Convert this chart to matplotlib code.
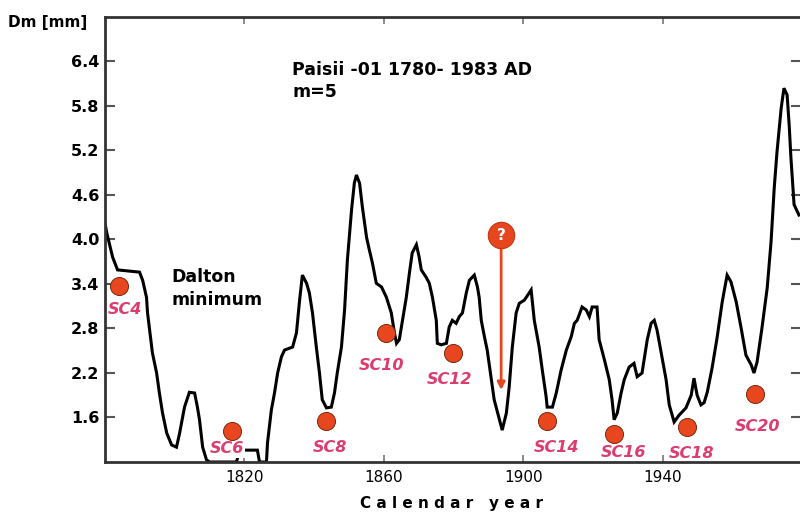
import matplotlib

matplotlib.use("Agg")  # no display
import matplotlib.pyplot as plt

# Paisii-01 ring series, m=5 smoothing (year, Dm in mm)
years = [
    1780.0, 1780.5, 1782.2, 1783.6, 1789.9, 1790.8, 1791.9, 1792.2, 1792.8, 1793.6,
    1794.8, 1795.6, 1796.5, 1797.7, 1799.1, 1800.5, 1801.4, 1802.8, 1804.2, 1805.7,
    1806.5, 1807.1, 1808.0, 1809.1, 1810.0, 1817.7, 1818.6, 1820.6, 1823.7, 1824.3,
    1826.3, 1826.6, 1827.7, 1828.6, 1829.5, 1830.6, 1831.5, 1833.8, 1834.9, 1835.8,
    1836.6, 1837.8, 1838.6, 1839.5, 1840.6, 1841.5, 1842.3, 1843.5, 1844.9, 1845.8,
    1846.6, 1847.8, 1848.7, 1849.5, 1850.7, 1851.5, 1852.1, 1853.0, 1853.8, 1855.0,
    1855.8, 1856.7, 1857.8, 1859.3, 1860.1, 1860.7, 1862.1, 1863.0, 1863.6, 1864.4,
    1865.3, 1866.4, 1867.3, 1868.1, 1869.3, 1870.1, 1870.7, 1872.1, 1873.0, 1873.9,
    1875.0, 1875.3, 1876.4, 1877.9, 1878.7, 1879.6, 1880.7, 1881.6, 1882.5, 1883.6,
    1884.5, 1885.9, 1886.8, 1887.3, 1887.9, 1888.8, 1889.6, 1890.8, 1891.6, 1893.1,
    1893.9, 1895.1, 1895.9, 1896.8, 1897.9, 1898.8, 1900.2, 1900.8, 1902.2, 1903.1,
    1904.5, 1905.4, 1906.5, 1906.8, 1908.3, 1909.4, 1910.8, 1912.3, 1913.7, 1914.6,
    1915.4, 1916.8, 1918.0, 1918.9, 1919.7, 1921.1, 1921.7, 1923.2, 1924.6, 1925.4,
    1926.0, 1926.9, 1928.0, 1928.9, 1930.3, 1931.7, 1932.6, 1934.0, 1935.5, 1936.6,
    1937.5, 1938.3, 1939.5, 1940.9, 1941.8, 1943.2, 1944.6, 1946.6, 1948.1, 1948.9,
    1949.8, 1950.9, 1951.8, 1952.7, 1954.1, 1955.5, 1957.0, 1958.4, 1959.5, 1961.0,
    1962.4, 1963.8, 1965.3, 1966.1, 1967.0, 1968.4, 1969.9, 1971.0, 1971.9, 1972.7,
    1973.9, 1974.7, 1975.6, 1976.2, 1976.7, 1977.6, 1979.0,
]
dm = [
    4.22, 4.09, 3.76, 3.59, 3.56, 3.45, 3.22, 3.01, 2.78, 2.47,
    2.20, 1.93, 1.66, 1.39, 1.23, 1.20, 1.39, 1.74, 1.94, 1.93,
    1.74, 1.57, 1.20, 1.03, 1.00, 1.00, 1.16, 1.16, 1.16, 1.00,
    1.00, 1.26, 1.70, 1.93, 2.20, 2.42, 2.51, 2.55, 2.74, 3.18,
    3.52, 3.41, 3.28, 3.01, 2.55, 2.20, 1.84, 1.73, 1.74, 1.93,
    2.20, 2.55, 3.05, 3.72, 4.40, 4.76, 4.87, 4.76, 4.44, 4.03,
    3.86, 3.68, 3.41, 3.36, 3.28, 3.22, 3.01, 2.74, 2.60, 2.65,
    2.91, 3.22, 3.55, 3.82, 3.93, 3.76, 3.59, 3.49, 3.41, 3.22,
    2.91, 2.60, 2.58, 2.60, 2.82, 2.91, 2.87, 2.96, 3.01, 3.28,
    3.45, 3.52, 3.36, 3.22, 2.91, 2.69, 2.51, 2.11, 1.84, 1.57,
    1.43, 1.66, 2.01, 2.55, 3.01, 3.14, 3.18, 3.22, 3.32, 2.91,
    2.55, 2.24, 1.88, 1.74, 1.74, 1.93, 2.24, 2.51, 2.69, 2.87,
    2.91, 3.09, 3.05, 2.96, 3.09, 3.09, 2.65, 2.38, 2.11, 1.84,
    1.57, 1.66, 1.93, 2.11, 2.28, 2.33, 2.15, 2.20, 2.65, 2.87,
    2.91, 2.78, 2.47, 2.11, 1.77, 1.54, 1.63, 1.73, 1.90, 2.13,
    1.90, 1.77, 1.80, 1.94, 2.27, 2.67, 3.16, 3.52, 3.43, 3.16,
    2.81, 2.44, 2.31, 2.20, 2.35, 2.81, 3.35, 3.97, 4.69, 5.18,
    5.77, 6.04, 5.95, 5.54, 5.10, 4.47, 4.33,
]

# solar cycle minima markers
sc_names = ["SC4", "SC6", "SC8", "SC10", "SC12", "SC14", "SC16", "SC18", "SC20"]
sc_years = [1783.9, 1816.3, 1843.5, 1860.7, 1879.9, 1906.8, 1926.0, 1946.9, 1966.4]
sc_dm = [3.37, 1.42, 1.55, 2.74, 2.47, 1.55, 1.38, 1.47, 1.92]

# the doubtful minimum near 1894
q_year = 1893.6
q_dm = 4.06
q_tip_dm = 1.97

y_ticks = [1.6, 2.2, 2.8, 3.4, 4.0, 4.6, 5.2, 5.8, 6.4]
x_ticks = [1820, 1860, 1900, 1940]

# label offsets in pixels, relative to each marker
label_offsets = [(6, -23), (-5, -18), (3, -26), (-5, -33), (-4, -27),
                 (9, -26), (9, -19), (4, -26), (2, -33)]

DOT = "#E8461E"
LABEL = "#DC3C6E"
SPINE = "#333333"

fig = plt.figure(figsize=(8.0, 5.14), dpi=100)
ax = fig.add_axes([0.13125, 0.10117, 0.8705, 0.86576])

ax.plot(years, dm, color="black", lw=2.2, zorder=2, solid_joinstyle="miter")

ax.plot(sc_years, sc_dm, "o", ms=13, mfc=DOT, mec="#7a2a10", mew=0.7, zorder=4)
# labels sit above the curve but under the spines
for name, x, y, off in zip(sc_names, sc_years, sc_dm, label_offsets):
    ax.annotate(name, (x, y), xytext=off, textcoords="offset pixels",
                ha="center", va="center", fontsize=11.5, fontweight="bold",
                fontstyle="italic", color=LABEL, zorder=2.4,
                bbox=dict(boxstyle="square,pad=0.08", fc="white", ec="none"))

# question mark with arrow
ax.annotate("", xy=(q_year, q_tip_dm), xytext=(q_year, q_dm - 0.17),
            arrowprops=dict(arrowstyle="-|>", color=DOT, lw=2,
                            mutation_scale=11, shrinkA=0, shrinkB=0), zorder=4)
ax.plot([q_year], [q_dm], "o", ms=19, mfc=DOT, mec="#c0380f", mew=0.8, zorder=4)
ax.text(q_year, q_dm, "?", ha="center", va="center", color="white",
        fontsize=11, fontweight="bold", zorder=5)

ax.set_xlim(1780, 1979.7)
ax.set_ylim(1.0, 7.0)

ax.set_yticks(y_ticks)
ax.set_yticklabels([f"{v:.1f}" for v in y_ticks], fontsize=11.5, fontweight="bold")
ax.set_xticks(x_ticks)
ax.set_xticklabels([str(v) for v in x_ticks], fontsize=11)

ax.tick_params(axis="y", which="both", direction="in", length=7, width=1.5,
               color="#555555", left=True, right=True, pad=4)
ax.tick_params(axis="x", which="both", direction="in", length=5, width=1.2,
               color="#777777", top=True, bottom=True, pad=6)

for side in ["left", "bottom", "top", "right"]:
    ax.spines[side].set_color(SPINE)
    ax.spines[side].set_linewidth(2)

ax.text(0.2687, 0.856, "Paisii -01 1780- 1983 AD\nm=5", transform=ax.transAxes,
        ha="left", va="center", fontsize=12.5, fontweight="bold", linespacing=1.3)
ax.text(0.0950, 0.390, "Dalton\nminimum", transform=ax.transAxes,
        ha="left", va="center", fontsize=12.5, fontweight="bold", linespacing=1.3)

fig.text(0.01, 0.957, "Dm [mm]", ha="left", va="center", fontsize=11, fontweight="bold")
fig.text(0.565, 0.0195, "C a l e n d a r   y e a r", ha="center", va="center",
         fontsize=11, fontweight="bold")

fig.savefig("out.png", dpi=100)
plt.close(fig)
